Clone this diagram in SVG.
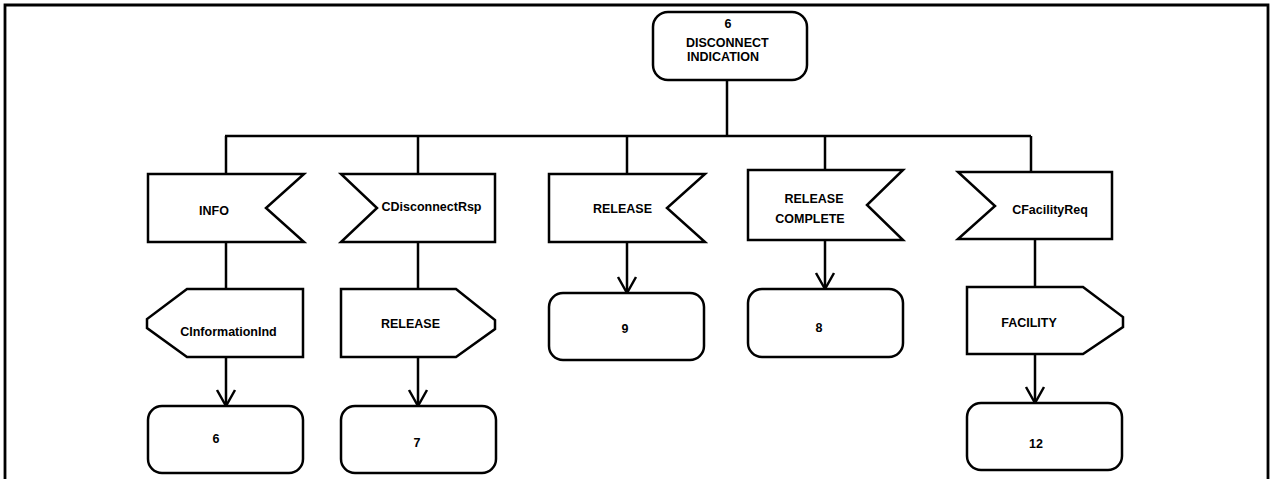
<svg xmlns="http://www.w3.org/2000/svg" width="1274" height="479" viewBox="0 0 1274 479">
<style>
.s{fill:#fff;stroke:#000;stroke-width:2.5;stroke-linejoin:miter}
.c{fill:none;stroke:#000;stroke-width:2.5}
.t{font-family:"Liberation Sans",Arial,sans-serif;font-weight:bold;font-size:12.5px;fill:#000;text-anchor:middle}
.ts{text-anchor:start}
</style>
<defs>
<marker id="arr" markerUnits="userSpaceOnUse" markerWidth="20" markerHeight="22" viewBox="-18 -11 20 22" refX="0" refY="0" orient="auto" overflow="visible">
<path d="M-16,-9 L0,0 L-16,9" fill="none" stroke="#000" stroke-width="2.5"/>
</marker>
</defs>
<rect width="1274" height="479" fill="#fff"/>
<path d="M5,479 V5 H1268 V479" fill="none" stroke="#000" stroke-width="2.8"/>
<g id="connectors">
<path class="c" d="M727,80 V136"/>
<path class="c" d="M225,136 H1031"/>
<path class="c" d="M226,136 V174"/>
<path class="c" d="M418,136 V174"/>
<path class="c" d="M627,136 V174"/>
<path class="c" d="M825,136 V170"/>
<path class="c" d="M1031,136 V172"/>
<path class="c" d="M226,242 V289"/>
<path class="c" d="M418,242 V289"/>
<path class="c" d="M1035,239 V287"/>
<path class="c" d="M226,357 V406" marker-end="url(#arr)"/>
<path class="c" d="M418,357 V406" marker-end="url(#arr)"/>
<path class="c" d="M627,242 V293" marker-end="url(#arr)"/>
<path class="c" d="M825,240 V289" marker-end="url(#arr)"/>
<path class="c" d="M1035,354 V403" marker-end="url(#arr)"/>
</g>
<g id="n_top">
<rect class="s" x="653" y="12" width="154" height="68" rx="15"/>
<text class="t" x="728" y="27.5">6</text>
<text class="t ts" x="686" y="46.5">DISCONNECT</text>
<text class="t ts" x="687" y="60.5">INDICATION</text>
</g>
<g id="n_info">
<path class="s" d="M148,174 H304 L266,208 L304,242 H148 Z"/>
<text class="t" x="214" y="215">INFO</text>
</g>
<g id="n_cdisc">
<path class="s" d="M341,174 H495 V242 H341 L377,208 Z"/>
<text class="t" x="431.5" y="210.5">CDisconnectRsp</text>
</g>
<g id="n_rel1">
<path class="s" d="M549,174 H705 L667,208 L705,242 H549 Z"/>
<text class="t" x="622.5" y="212.5">RELEASE</text>
</g>
<g id="n_relc">
<path class="s" d="M748,170 H903 L867,205 L903,240 H748 Z"/>
<text class="t" x="814" y="202.5">RELEASE</text>
<text class="t" x="810" y="222.5">COMPLETE</text>
</g>
<g id="n_cfac">
<path class="s" d="M958,172 H1112 V239 H958 L995,206 Z"/>
<text class="t" x="1050" y="213.5">CFacilityReq</text>
</g>
<g id="n_cinfo">
<path class="s" d="M187,289 H303 V357 H187 L147,328 V319 Z"/>
<text class="t" x="228.5" y="335.5">CInformationInd</text>
</g>
<g id="n_rel2">
<path class="s" d="M341,289 H456 L495,320 V329 L456,357 H341 Z"/>
<text class="t" x="410.5" y="327.5">RELEASE</text>
</g>
<g id="n_fac">
<path class="s" d="M967,287 H1083 L1123,317 V327 L1083,354 H967 Z"/>
<text class="t" x="1029" y="326.5">FACILITY</text>
</g>
<g id="n_9">
<rect class="s" x="549" y="293" width="155" height="67" rx="14"/>
<text class="t" x="625" y="332.5">9</text>
</g>
<g id="n_8">
<rect class="s" x="748" y="289" width="155" height="68" rx="14"/>
<text class="t" x="819" y="331.5">8</text>
</g>
<g id="n_6">
<rect class="s" x="148" y="406" width="155" height="67" rx="14"/>
<text class="t" x="216" y="442.5">6</text>
</g>
<g id="n_7">
<rect class="s" x="341" y="406" width="155" height="67" rx="14"/>
<text class="t" x="417" y="446.5">7</text>
</g>
<g id="n_12">
<rect class="s" x="967" y="403" width="155" height="67" rx="14"/>
<text class="t" x="1036" y="447.5">12</text>
</g>
</svg>
